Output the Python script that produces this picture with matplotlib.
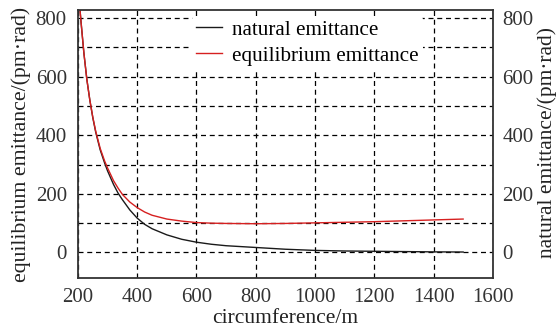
import matplotlib
matplotlib.use('Agg')
import matplotlib.pyplot as plt

plt.rcParams['font.family'] = ['Liberation Serif', 'DejaVu Serif']

# values
circ = [205, 210, 220, 230, 240, 250, 260, 275, 290, 300, 320, 335, 350, 375, 400,
        425, 450, 500, 550, 600, 650, 700, 800, 900, 1000, 1100, 1200, 1300, 1400, 1500]
natural = [850, 790, 680, 590, 520, 460, 410, 350, 305, 278, 232, 203, 180, 145, 117,
           96, 81, 60, 45, 35, 28, 23, 17, 11, 7, 5, 4, 3, 2, 1.5]
equilibrium = [850, 790, 680, 590, 520, 462, 413, 355, 312, 288, 245, 220, 198, 172, 153,
               138, 127, 114, 107, 102, 100, 99, 98, 99, 101, 103, 105, 108, 111, 114]

fs = 15
lfs = 15.5
fig = plt.figure(figsize=(5.59, 3.27), dpi=100)
ax = fig.add_axes([0.1395, 0.15, 0.742, 0.819])

ax.plot(circ, natural, color='#1a1a1a', lw=1.0, label='natural emittance')
ax.plot(circ, equilibrium, color='#d62020', lw=1.0, label='equilibrium emittance')

ax.set_xlim(200, 1600)
ax.set_ylim(-87, 827)
ax.set_xticks(range(200, 1601, 200))
ax.set_yticks([0, 200, 400, 600, 800])
ax.set_yticks(range(0, 801, 100), minor=True)
ax.grid(True, which='both', color='black', linestyle=(0, (4, 3)), lw=0.9)
ax.tick_params(which='both', direction='in', labelsize=fs, length=0, colors='#333333')
ax.tick_params(axis='x', pad=7)
ax.tick_params(axis='y', pad=8)
for s in ax.spines.values():
    s.set_color('#333333')
    s.set_linewidth(1.3)

ax2 = ax.twinx()
ax2.set_ylim(ax.get_ylim())
ax2.set_yticks([0, 200, 400, 600, 800])
ax2.tick_params(direction='in', labelsize=fs, length=0, pad=7, colors='#333333')
for s in ax2.spines.values():
    s.set_visible(False)

# axis titles
fig.text(0.5107, 0.0275, 'circumference/m', fontsize=lfs, ha='center', va='center', color='#222222')
fig.text(0.0376, 0.558, 'equilibrium emittance/(pm·rad)', fontsize=15.7, rotation=90,
         ha='center', va='center', color='#222222')
fig.text(0.979, 0.563, 'natural emittance/(pm·rad)', fontsize=lfs, rotation=90,
         ha='center', va='center', color='#222222')

leg = ax.legend(loc='upper left', bbox_to_anchor=(0.25, 1.019), frameon=True, fontsize=15.2,
                handlelength=1.2, handletextpad=0.5, labelspacing=0.3, borderpad=0.2)
leg.get_frame().set_edgecolor('none')
leg.get_frame().set_facecolor('white')
leg.get_frame().set_alpha(1)

fig.savefig('out.png', dpi=100)
